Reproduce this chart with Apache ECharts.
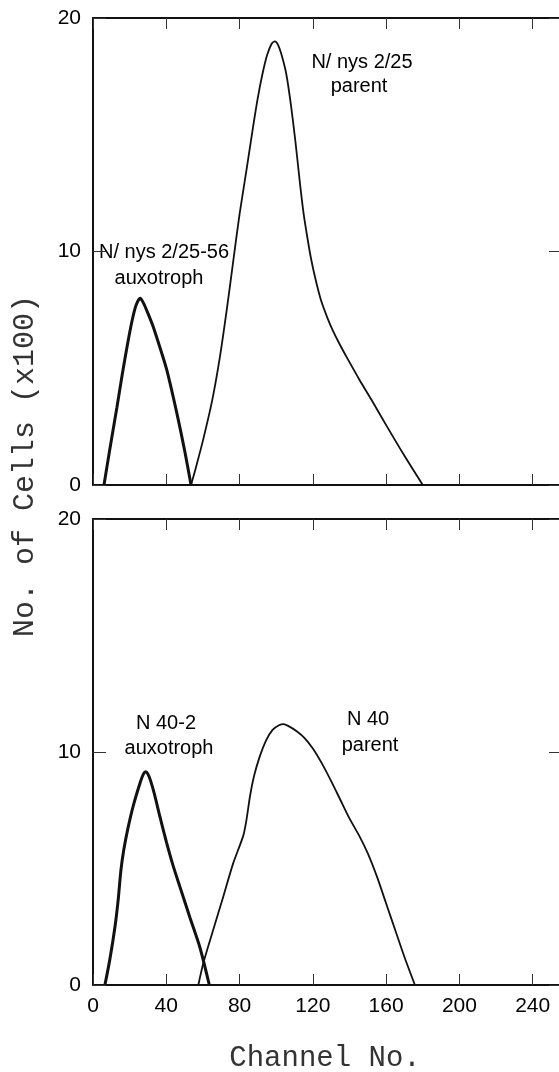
<!DOCTYPE html>
<html>
<head>
<meta charset="utf-8">
<script src="https://cdn.jsdelivr.net/npm/echarts@6/dist/echarts.min.js"></script>
<style>
  html, body { margin: 0; padding: 0; background: #fff; overflow: hidden; width: 559px; height: 1072px; }
  #chart { width: 562px; height: 1072px; }
</style>
</head>
<body>
<div id="chart"></div>
<script>
// x ticks (channel) and y ticks (cells x100)
var xTicks = [0, 40, 80, 120, 160, 200, 240]
var yTicks = [0, 10, 20]

// upper panel: N/ nys 2/25-56 auxotroph (thick) and N/ nys 2/25 parent (thin)
var topAuxotroph = [[6, 0], [9, 1.45], [13, 3.3], [16, 4.75], [19, 6.1], [21.5, 7.1], [23.5, 7.7], [25.7, 8.0],
  [27.5, 7.8], [30, 7.35], [33, 6.75], [36.5, 5.9], [40.2, 4.95], [45.7, 3.1], [50.2, 1.4], [53.5, 0]]
var topParent = [[53.5, 0], [56, 0.7], [60, 1.9], [65, 3.6], [69.3, 5.5], [73, 7.5], [76.4, 9.5], [80, 11.6],
  [84, 13.6], [87.5, 15.4], [90, 16.6], [92.5, 17.6], [95, 18.4], [97.5, 18.9], [99.3, 19.0], [101, 18.85],
  [103, 18.4], [105.5, 17.6], [108, 16.3], [110.5, 14.7], [113, 12.9], [115, 11.6], [117, 10.6],
  [119, 9.7], [121.5, 8.8], [124.5, 7.9], [128, 7.15], [131, 6.6], [134.5, 6.05], [139, 5.4], [145.5, 4.5],
  [152, 3.65], [160.5, 2.5], [170, 1.25], [180, 0]]

// lower panel: N 40-2 auxotroph (thick) and N 40 parent (thin)
var bottomAuxotroph = [[6.5, 0], [9.2, 1.1], [12, 2.5], [13.8, 3.7], [15.2, 4.9], [16.8, 5.8], [19, 6.7],
  [22, 7.7], [25.6, 8.65], [27.5, 9.05], [28.8, 9.15], [30, 9.05], [31.5, 8.75], [33.5, 8.2], [36.6, 7.2],
  [40.2, 6.1], [43.8, 5.1], [47.5, 4.2], [52.9, 2.9], [58.4, 1.6], [63.5, 0]]
var bottomParent = [[57.5, 0], [60.2, 0.93], [65.6, 2.36], [71.1, 3.79], [76.5, 5.22], [82, 6.4], [83.8, 7.1],
  [85.7, 8.1], [88, 9.0], [91, 9.8], [94.5, 10.5], [98, 10.95], [101.5, 11.15], [104, 11.2], [107, 11.1],
  [111, 10.9], [115.5, 10.6], [120, 10.15], [125, 9.5], [130, 8.75], [135, 7.95], [140, 7.15], [145.7, 6.35],
  [150, 5.65], [155, 4.65], [160, 3.5], [165, 2.35], [170, 1.2], [175.7, 0]]

var ink = '#000'
var numFont = 'Liberation Sans, Arial, sans-serif'
var monoFont = 'Liberation Mono, Courier New, monospace'

function xAxisFor(gridIndex, position, showLabels) {
  return {
    type: 'value',
    gridIndex: gridIndex,
    position: position,
    min: xTicks[0],
    max: 256,
    interval: 40,
    axisLine: { show: true, onZero: false, lineStyle: { color: '#111', width: 2 } },
    axisTick: { show: true, inside: true, length: 11, lineStyle: { color: '#333', width: 1 } },
    axisLabel: {
      show: showLabels,
      showMaxLabel: false,
      margin: 11,
      color: ink,
      fontFamily: numFont,
      fontSize: 21
    },
    splitLine: { show: false }
  }
}

function yAxisFor(gridIndex, position, showLabels) {
  return {
    type: 'value',
    gridIndex: gridIndex,
    position: position,
    min: yTicks[0],
    max: yTicks[yTicks.length - 1],
    interval: 10,
    axisLine: { show: true, onZero: false, lineStyle: { color: '#111', width: 2 } },
    axisTick: { show: true, inside: true, length: 13, lineStyle: { color: '#333', width: 1 } },
    axisLabel: {
      show: showLabels,
      margin: 12,
      color: ink,
      fontFamily: numFont,
      fontSize: 21
    },
    splitLine: { show: false }
  }
}

function curve(name, data, xIdx, yIdx, width) {
  return {
    name: name,
    type: 'line',
    xAxisIndex: xIdx,
    yAxisIndex: yIdx,
    data: data,
    symbol: 'none',
    smooth: 0.25,
    lineStyle: { color: '#111', width: width },
    z: 3
  }
}

function note(x, y, text) {
  return {
    type: 'text',
    x: x,
    y: y,
    style: {
      text: text,
      fill: ink,
      font: '20px ' + numFont,
      align: 'center',
      verticalAlign: 'middle'
    }
  }
}

var myChart = echarts.init(document.getElementById('chart'))
var option = {
  animation: false,
  backgroundColor: '#fff',
  grid: [
    { left: 93, top: 18, right: 0, height: 467 },
    { left: 93, top: 519, right: 0, height: 466 }
  ],
  xAxis: [
    xAxisFor(0, 'bottom', false),
    xAxisFor(0, 'top', false),
    xAxisFor(1, 'bottom', true),
    xAxisFor(1, 'top', false)
  ],
  yAxis: [
    yAxisFor(0, 'left', true),
    yAxisFor(0, 'right', false),
    yAxisFor(1, 'left', true),
    yAxisFor(1, 'right', false)
  ],
  series: [
    curve('N/ nys 2/25-56 auxotroph', topAuxotroph, 0, 0, 3),
    curve('N/ nys 2/25 parent', topParent, 0, 0, 1.8),
    curve('N 40-2 auxotroph', bottomAuxotroph, 2, 2, 3),
    curve('N 40 parent', bottomParent, 2, 2, 1.8)
  ],
  graphic: [
    note(362, 62, 'N/ nys 2/25'),
    note(359, 86, 'parent'),
    note(164, 252, 'N/ nys 2/25-56'),
    note(159, 278, 'auxotroph'),
    note(166, 723, 'N 40-2'),
    note(169, 748, 'auxotroph'),
    note(368, 719, 'N 40'),
    note(370, 745, 'parent'),
    {
      type: 'text',
      x: 25,
      y: 466,
      rotation: Math.PI / 2,
      style: {
        text: 'No. of Cells (x100)',
        fill: '#333',
        font: '30px ' + monoFont,
        align: 'center',
        verticalAlign: 'middle'
      }
    },
    {
      type: 'text',
      x: 325,
      y: 1058,
      style: {
        text: 'Channel No.',
        fill: '#333',
        font: '29px ' + monoFont,
        align: 'center',
        verticalAlign: 'middle'
      }
    }
  ]
}
myChart.setOption(option)
window.addEventListener('resize', () => {
  myChart.resize()
})
</script>
</body>
</html>
